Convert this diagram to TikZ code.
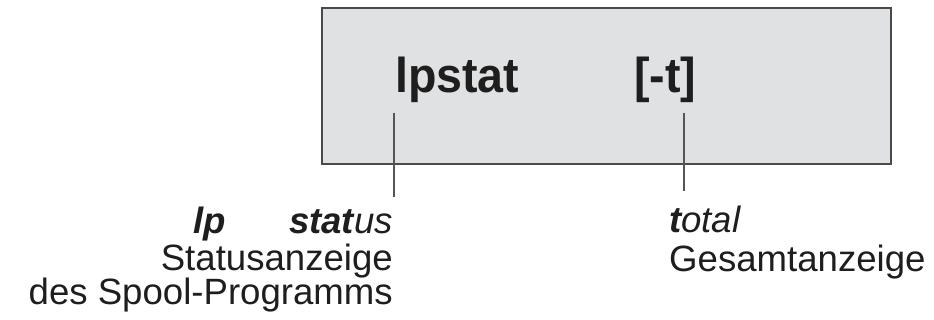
\documentclass[tikz,border=0pt]{standalone}
\usepackage{fontspec}
\setmainfont{Liberation Sans}
\newfontfamily\boxfont{Liberation Sans Bold}[FakeStretch=0.95]
\definecolor{boxfill}{HTML}{E0E1E3}
\definecolor{boxline}{HTML}{4A4A4A}
\definecolor{connline}{HTML}{555555}
\definecolor{ink}{HTML}{1E1E1E}
\tikzset{
  cmdbox/.style={draw=boxline, fill=boxfill, line width=2pt, minimum width=569pt, minimum height=156pt, anchor=north west, inner sep=0pt},
  cmdtext/.style={anchor=base west, inner sep=0pt, text=ink, font=\boxfont\fontsize{49}{52}\selectfont},
  conn/.style={draw=connline, line width=1.6pt},
  lbl/.style={inner sep=0pt, text=ink, font=\fontsize{36.6}{40}\selectfont}
}
\begin{document}
\begin{tikzpicture}[x=1pt,y=-1pt]
\useasboundingbox (0,0) rectangle (934,320);
\node[cmdbox] (box) at (321,7) {};
\node[cmdtext] (cmd) at (395,93) {lpstat};
\node[cmdtext] (opt) at (634,93) {[-t]};
\coordinate (c1t) at (394,113);
\coordinate (c1b) at (394,197);
\coordinate (c2t) at (684,113);
\coordinate (c2b) at (684,191);
\draw[conn] (c1t) -- (c1b);
\draw[conn] (c2t) -- (c2b);
\node[lbl, anchor=base west] (lp) at (193,234) {\bfseries\itshape lp};
\node[lbl, anchor=base east] (status) at (393,234) {{\bfseries\itshape stat}{\itshape us}};
\node[lbl, anchor=base east] (statusanz) at (393,271) {Statusanzeige};
\node[lbl, anchor=base east] (spool) at (393,305) {des Spool-Programms};
\node[lbl, anchor=base west] (total) at (669,233) {{\bfseries\itshape t}{\itshape otal}};
\node[lbl, anchor=base west] (gesamt) at (669,272) {Gesamtanzeige};
\end{tikzpicture}
\end{document}
